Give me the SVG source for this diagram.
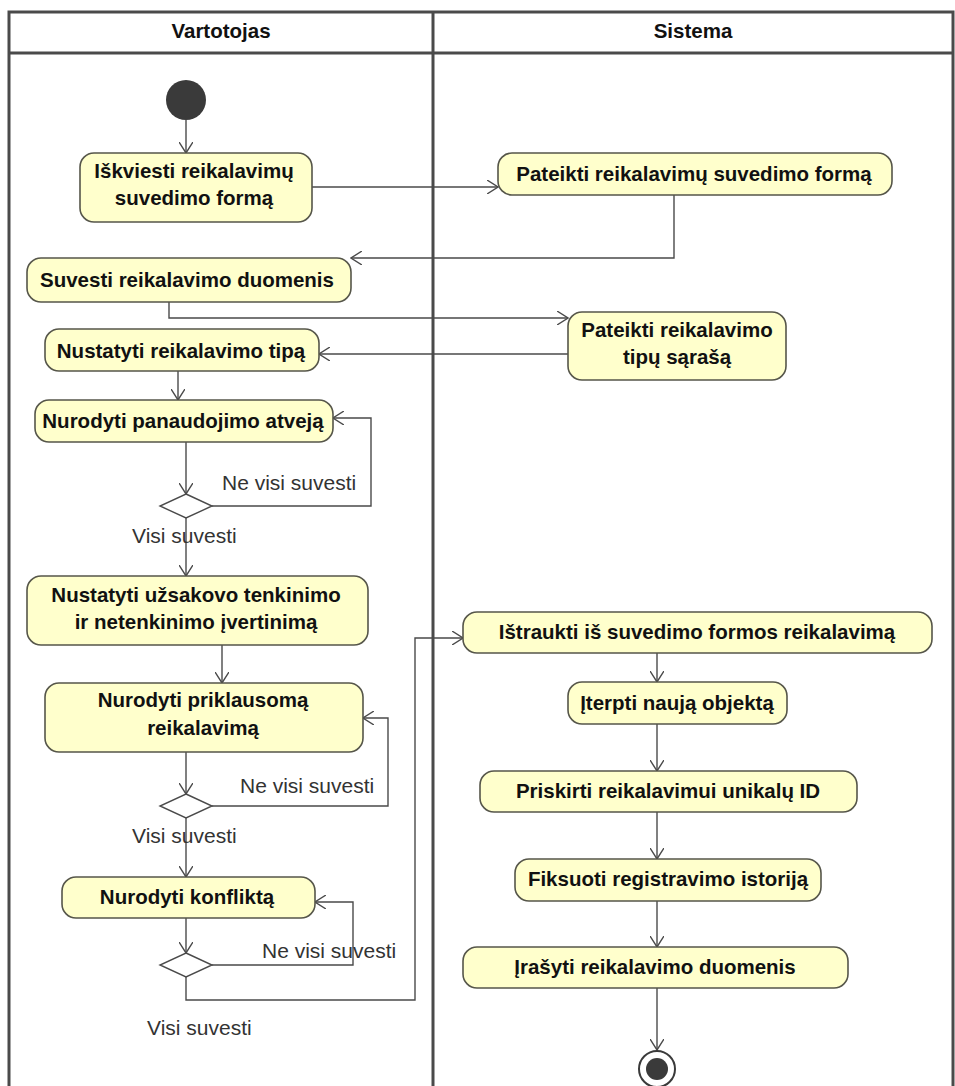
<svg xmlns="http://www.w3.org/2000/svg" width="955" height="1086" viewBox="0 0 955 1086">
  <defs>
    <marker id="open" viewBox="0 0 12 14" refX="11" refY="7" markerWidth="12" markerHeight="14" markerUnits="userSpaceOnUse" orient="auto">
      <path d="M0,0 L11,7 L0,14" fill="none" stroke="#4a4a4a" stroke-width="1.4"/>
    </marker>
  </defs>
  <style>
    .frame { fill: none; stroke: #4a4a4a; stroke-width: 3; }
    .act { fill: #ffffcc; stroke: #56564a; stroke-width: 1.6; }
    .atxt { font-family: "Liberation Sans", Arial, sans-serif; font-weight: bold; font-size: 20.5px; fill: #111; text-anchor: middle; }
    .hdr { font-family: "Liberation Sans", Arial, sans-serif; font-weight: bold; font-size: 20.5px; fill: #111; text-anchor: middle; }
    .lbl { font-family: "Liberation Sans", Arial, sans-serif; font-size: 21px; fill: #333; }
    .flow { fill: none; stroke: #4a4a4a; stroke-width: 1.4; marker-end: url(#open); }
    .dec { fill: #ffffff; stroke: #4a4a4a; stroke-width: 1.4; }
  </style>

  <rect width="955" height="1086" fill="#ffffff"/>

  <!-- swimlane frame -->
  <g id="lanes">
    <rect class="frame" x="9" y="12" width="944" height="1090"/>
    <line class="frame" x1="9" y1="53" x2="953" y2="53"/>
    <line class="frame" x1="433" y1="12" x2="433" y2="1090"/>
    <text class="hdr" x="221" y="38">Vartotojas</text>
    <text class="hdr" x="693" y="38">Sistema</text>
  </g>

  <!-- control flows -->
  <g id="connectors">
    <path class="flow" d="M186,120 L186,153"/>
    <path class="flow" d="M312,187 L498,187"/>
    <path class="flow" d="M674,195 L674,258 L351,258"/>
    <path class="flow" d="M169,302 L169,318 L568,318"/>
    <path class="flow" d="M568,354 L319,354"/>
    <path class="flow" d="M178,371 L178,400"/>
    <path class="flow" d="M186,442 L186,494"/>
    <path class="flow" d="M212,506 L371,506 L371,418 L333,418"/>
    <path class="flow" d="M186,518 L186,576"/>
    <path class="flow" d="M222,645 L222,683"/>
    <path class="flow" d="M186,752 L186,794"/>
    <path class="flow" d="M212,806 L388,806 L388,718 L363,718"/>
    <path class="flow" d="M186,818 L186,877"/>
    <path class="flow" d="M186,918 L186,953"/>
    <path class="flow" d="M212,965 L353,965 L353,902 L315,902"/>
    <path class="flow" d="M186,977 L186,1000 L415,1000 L415,638 L463,638"/>
    <path class="flow" d="M657,653 L657,682"/>
    <path class="flow" d="M657,724 L657,771"/>
    <path class="flow" d="M657,812 L657,859"/>
    <path class="flow" d="M657,901 L657,947"/>
    <path class="flow" d="M657,988 L657,1050"/>
    <text class="lbl" x="222" y="490">Ne visi suvesti</text>
    <text class="lbl" x="132" y="543">Visi suvesti</text>
    <text class="lbl" x="240" y="793">Ne visi suvesti</text>
    <text class="lbl" x="132" y="843">Visi suvesti</text>
    <text class="lbl" x="262" y="958">Ne visi suvesti</text>
    <text class="lbl" x="147" y="1035">Visi suvesti</text>
  </g>

  <g id="start">
    <circle cx="186" cy="100" r="20" fill="#3a3a3a"/>
  </g>

  <g id="a1">
    <rect class="act" x="80" y="153" width="232" height="69" rx="14"/>
    <text class="atxt" x="194" y="178">Iškviesti reikalavimų</text>
    <text class="atxt" x="194" y="205">suvedimo formą</text>
  </g>
  <g id="a2">
    <rect class="act" x="27" y="258" width="324" height="44" rx="14"/>
    <text class="atxt" x="187" y="287">Suvesti reikalavimo duomenis</text>
  </g>
  <g id="s1">
    <rect class="act" x="498" y="153" width="394" height="42" rx="14"/>
    <text class="atxt" x="694" y="181">Pateikti reikalavimų suvedimo formą</text>
  </g>
  <g id="s2">
    <rect class="act" x="568" y="312" width="218" height="68" rx="14"/>
    <text class="atxt" x="677" y="337">Pateikti reikalavimo</text>
    <text class="atxt" x="677" y="364">tipų sąrašą</text>
  </g>
  <g id="a3">
    <rect class="act" x="45" y="329" width="274" height="42" rx="14"/>
    <text class="atxt" x="181" y="358">Nustatyti reikalavimo tipą</text>
  </g>
  <g id="a4">
    <rect class="act" x="35" y="400" width="298" height="42" rx="14"/>
    <text class="atxt" x="183" y="428">Nurodyti panaudojimo atveją</text>
  </g>
  <g id="d1">
    <polygon class="dec" points="186,494 212,506 186,518 160,506"/>
  </g>
  <g id="a5">
    <rect class="act" x="27" y="576" width="341" height="69" rx="14"/>
    <text class="atxt" x="196" y="602">Nustatyti užsakovo tenkinimo</text>
    <text class="atxt" x="196" y="629">ir netenkinimo įvertinimą</text>
  </g>
  <g id="a6">
    <rect class="act" x="45" y="683" width="318" height="69" rx="14"/>
    <text class="atxt" x="203" y="707">Nurodyti priklausomą</text>
    <text class="atxt" x="203" y="735">reikalavimą</text>
  </g>
  <g id="d2">
    <polygon class="dec" points="186,794 212,806 186,818 160,806"/>
  </g>
  <g id="a7">
    <rect class="act" x="62" y="877" width="253" height="41" rx="14"/>
    <text class="atxt" x="187" y="904">Nurodyti konfliktą</text>
  </g>
  <g id="d3">
    <polygon class="dec" points="186,953 212,965 186,977 160,965"/>
  </g>
  <g id="s3">
    <rect class="act" x="463" y="612" width="469" height="41" rx="14"/>
    <text class="atxt" x="697" y="639">Ištraukti iš suvedimo formos reikalavimą</text>
  </g>
  <g id="s4">
    <rect class="act" x="568" y="682" width="219" height="42" rx="14"/>
    <text class="atxt" x="677" y="710">Įterpti naują objektą</text>
  </g>
  <g id="s5">
    <rect class="act" x="480" y="771" width="377" height="41" rx="14"/>
    <text class="atxt" x="668" y="798">Priskirti reikalavimui unikalų ID</text>
  </g>
  <g id="s6">
    <rect class="act" x="515" y="859" width="306" height="42" rx="14"/>
    <text class="atxt" x="668" y="886">Fiksuoti registravimo istoriją</text>
  </g>
  <g id="s7">
    <rect class="act" x="463" y="947" width="385" height="41" rx="14"/>
    <text class="atxt" x="655" y="974">Įrašyti reikalavimo duomenis</text>
  </g>
  <g id="end">
    <circle cx="657" cy="1069" r="18" fill="#ffffff" stroke="#3a3a3a" stroke-width="2"/>
    <circle cx="657" cy="1069" r="11" fill="#3a3a3a"/>
  </g>
</svg>
